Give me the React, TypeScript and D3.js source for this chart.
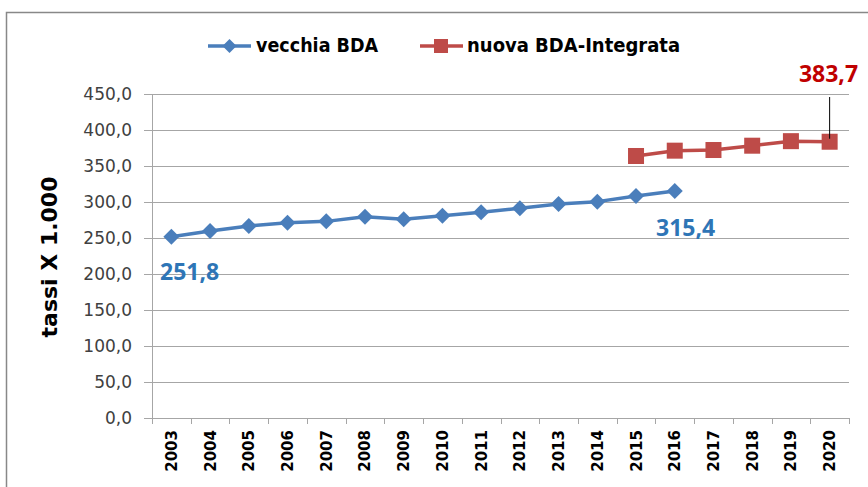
import React from "react";
import * as d3 from "d3";

const years = ["2003","2004","2005","2006","2007","2008","2009","2010","2011","2012","2013","2014","2015","2016","2017","2018","2019","2020"];
const vecchiaYears = ["2003","2004","2005","2006","2007","2008","2009","2010","2011","2012","2013","2014","2015","2016"];
const vecchiaValues = [251.8, 259.7, 266.7, 271.3, 273.1, 279.6, 275.9, 281.0, 285.8, 291.2, 297.2, 300.5, 308.3, 315.4];
const nuovaYears = ["2015","2016","2017","2018","2019","2020"];
const nuovaValues = [363.9, 371.3, 372.2, 378.2, 384.5, 383.7];
const yTicks = [0, 50, 100, 150, 200, 250, 300, 350, 400, 450];
const seriesNames = ["vecchia BDA", "nuova BDA-Integrata"];

const W = 868, H = 487;
const plot = { left: 152, right: 849, top: 94, bottom: 418 };
const BLUE = "#4A7EBB";
const RED = "#BE4B48";
const FONT = "'Liberation Sans Narrow', 'DejaVu Sans Condensed', 'Open Sans', sans-serif";

const fmt = (v: number) => v.toFixed(1).replace(".", ",");

export default function App() {
  const x = d3.scaleBand<string>().domain(years).range([plot.left, plot.right]);
  const y = d3.scaleLinear().domain([0, 450]).range([plot.bottom, plot.top]);
  const cx = (yr: string) => (x(yr) as number) + x.bandwidth() / 2;

  const line = d3.line<[string, number]>().x(d => cx(d[0])).y(d => y(d[1]));
  const vData: [string, number][] = vecchiaYears.map((yr, i) => [yr, vecchiaValues[i]]);
  const nData: [string, number][] = nuovaYears.map((yr, i) => [yr, nuovaValues[i]]);

  const diamond = (px: number, py: number, r: number) =>
    `M${px},${py - r}L${px + r},${py}L${px},${py + r}L${px - r},${py}Z`;

  const lastN = nData[nData.length - 1];
  const lastV = vData[vData.length - 1];
  const firstV = vData[0];

  return (
    <svg width={W} height={H} style={{ display: "block", position: "absolute", left: 0, top: 0 }}>
      <rect x={0} y={0} width={W} height={H} fill="#fff" />
      {/* frame */}
      <path d={`M6.5,${H}V12.5H${W}`} fill="none" stroke="#888" strokeWidth={1.5} />

      {/* gridlines */}
      {yTicks.map(t => (
        <line key={t} x1={plot.left - 8} x2={plot.right} y1={Math.round(y(t)) + 0.5} y2={Math.round(y(t)) + 0.5}
          stroke="#A6A6A6" strokeWidth={1} />
      ))}
      {/* y axis line */}
      <line x1={plot.left + 0.5} x2={plot.left + 0.5} y1={plot.top} y2={plot.bottom + 6} stroke="#A6A6A6" />
      {/* x ticks */}
      {years.map((yr) => (
        <line key={yr} x1={Math.round(x(yr) as number) + 0.5} x2={Math.round(x(yr) as number) + 0.5}
          y1={plot.bottom} y2={plot.bottom + 6} stroke="#A6A6A6" />
      ))}
      <line x1={plot.right + 0.5} x2={plot.right + 0.5} y1={plot.bottom} y2={plot.bottom + 6} stroke="#A6A6A6" />

      {/* y tick labels */}
      {yTicks.map(t => (
        <text key={t} x={132} y={y(t)} dy="0.36em" textAnchor="end" fontFamily="'DejaVu Sans', sans-serif"
          fontSize={17} fill="#404040">{fmt(t)}</text>
      ))}
      {/* x labels */}
      {years.map(yr => (
        <text key={yr} transform={`translate(${cx(yr) + 5.5},${plot.bottom + 12}) rotate(-90)`} textAnchor="end"
          fontFamily="'DejaVu Sans', sans-serif" fontWeight="bold" fontSize={15} fill="#000">{yr}</text>
      ))}
      {/* y title */}
      <text transform={`translate(57,257) rotate(-90)`} textAnchor="middle" fontFamily="'DejaVu Sans', sans-serif"
        fontWeight="bold" fontSize={22} fill="#000">tassi X 1.000</text>

      {/* series */}
      <path d={line(vData) as string} fill="none" stroke={BLUE} strokeWidth={3.5} strokeLinejoin="round" />
      {vData.map(d => (
        <path key={d[0]} d={diamond(cx(d[0]), y(d[1]), 8)} fill={BLUE} />
      ))}
      <path d={line(nData) as string} fill="none" stroke={RED} strokeWidth={3.5} strokeLinejoin="round" />
      {nData.map(d => (
        <rect key={d[0]} x={cx(d[0]) - 8} y={y(d[1]) - 8} width={16} height={16} fill={RED} />
      ))}

      {/* data labels */}
      <text x={160} y={280} fontFamily="'Open Sans', sans-serif" fontWeight="bold" fontSize={23}
        fill="#2E75B6">{fmt(firstV[1])}</text>
      <text x={656} y={236} fontFamily="'Open Sans', sans-serif" fontWeight="bold" fontSize={23}
        fill="#2E75B6">{fmt(lastV[1])}</text>
      <text x={828.5} y={82} textAnchor="middle" fontFamily="'Open Sans', sans-serif" fontWeight="bold" fontSize={23}
        fill="#C00000">{fmt(lastN[1])}</text>
      <line x1={cx(lastN[0])} x2={cx(lastN[0])} y1={97} y2={y(lastN[1]) - 3} stroke="#000" strokeWidth={1} />

      {/* legend */}
      <line x1={208} x2={251} y1={46} y2={46} stroke={BLUE} strokeWidth={3.5} />
      <path d={diamond(229.5, 46, 7)} fill={BLUE} />
      <text x={256} y={52} fontFamily={FONT} fontWeight="bold" fontSize={19.5} fill="#000">{seriesNames[0]}</text>
      <line x1={420} x2={463} y1={46} y2={46} stroke={RED} strokeWidth={3.5} />
      <rect x={434} y={39} width={14} height={14} fill={RED} />
      <text x={467} y={52} fontFamily={FONT} fontWeight="bold" fontSize={20} fill="#000">{seriesNames[1]}</text>
    </svg>
  );
}
